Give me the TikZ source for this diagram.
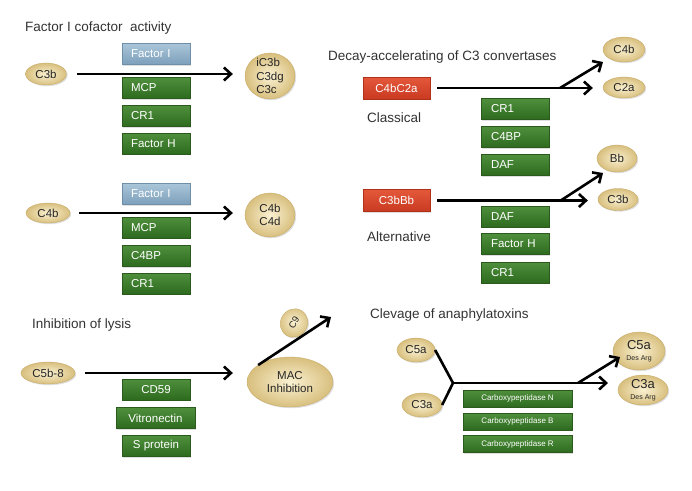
\documentclass[tikz,border=0pt]{standalone}
\usepackage{fontspec}
\setmainfont{Liberation Sans}
\usetikzlibrary{arrows.meta,shapes.geometric,shadows}
\definecolor{gtop}{HTML}{4F8F3C}
\definecolor{gbot}{HTML}{2D6A1F}
\definecolor{gedge}{HTML}{2A5A1C}
\definecolor{btop}{HTML}{A9C5D9}
\definecolor{bbot}{HTML}{7D9FBA}
\definecolor{bedge}{HTML}{6F8FA8}
\definecolor{rtop}{HTML}{E4583A}
\definecolor{rbot}{HTML}{C93A22}
\definecolor{redge}{HTML}{B03018}
\definecolor{goldin}{HTML}{FAF1D2}
\definecolor{goldout}{HTML}{D8BF7E}
\definecolor{golde}{HTML}{C4A760}
\definecolor{ttl}{HTML}{333333}
\begin{document}
\begin{tikzpicture}[x=1pt,y=-1pt,
  every node/.style={inner sep=0pt},
  ttext/.style={font=\fontsize{13.5}{16}\selectfont, text=ttl, anchor=west},
  shd/.style={drop shadow={opacity=0.25,shadow xshift=1.2pt,shadow yshift=-1.2pt}},
  gbox/.style={rectangle, draw=gedge, line width=0.3pt, top color=gtop, bottom color=gbot,
    text=white, minimum width=68pt, minimum height=21pt, font=\fontsize{11.5}{13}\selectfont, shd},
  lbox/.style={gbox, text width=50pt, align=left, inner xsep=9pt},
  bbox/.style={lbox, draw=bedge, top color=btop, bottom color=bbot},
  rbox/.style={gbox, draw=redge, top color=rtop, bottom color=rbot, minimum width=67pt, minimum height=22pt},
  sbox/.style={gbox, minimum width=109pt, minimum height=17pt, font=\fontsize{8}{9}\selectfont},
  oval/.style={ellipse, draw=golde, line width=0.3pt, inner color=goldin, outer color=goldout,
    font=\fontsize{11.5}{13.5}\selectfont, text=black!85, shd},
  arr/.style={line width=2.6pt, -{Straight Barb[length=7pt,width=13pt]}},
  seg/.style={line width=2.6pt},
]
\fill[white] (0,0) rectangle (692,490);
\useasboundingbox (0,0) rectangle (692,490);

% ---------- Factor I cofactor activity (C3b)
\node[ttext] (t1) at (25,28) {Factor I cofactor\ \ activity};
\node[oval, minimum width=41pt, minimum height=22pt] (c3b) at (46,74) {C3b};
\node[oval, minimum width=50pt, minimum height=46pt,
  label={[font=\fontsize{11.5}{13.5}\selectfont, align=left, text=black!85]center:{iC3b\\C3dg\\C3c}}] (res1) at (270,76) {};
\node[bbox] (fi1) at (156,54) {Factor I};
\node[lbox] (mcp1) at (156,88) {MCP};
\node[lbox] (cr1a) at (156,116) {CR1};
\node[lbox] (fh1) at (156,143.5) {Factor H};
\draw[arr, shorten <=10pt, shorten >=12pt] (c3b.east) -- (c3b.east -| res1.west);

% ---------- C4b
\node[oval, minimum width=44pt, minimum height=20pt] (c4b) at (48,213) {C4b};
\node[oval, minimum width=50pt, minimum height=44pt,
  label={[font=\fontsize{11.5}{13.5}\selectfont, align=left, text=black!85]center:{C4b\\C4d}}] (res2) at (270,215) {};
\node[bbox] (fi2) at (156,194) {Factor I};
\node[lbox] (mcp2) at (156,227.5) {MCP};
\node[lbox] (c4bp1) at (156,256) {C4BP};
\node[lbox] (cr1b) at (156,283.5) {CR1};
\draw[arr, shorten <=9pt, shorten >=12pt] (c4b.east) -- (c4b.east -| res2.west);

% ---------- Inhibition of lysis
\node[ttext] (t3) at (32,325) {Inhibition of lysis};
\node[oval, minimum width=54pt, minimum height=22pt] (c5b8) at (48,373) {C5b-8};
\node[oval, minimum width=86pt, minimum height=50pt, align=center] (mac) at (290,382) {MAC\\Inhibition};
\node[oval, minimum width=29pt, minimum height=27pt, rotate=60, font=\fontsize{9.5}{11}\selectfont] (c9) at (294,323) {C9};
\node[gbox, text width=50pt, align=center] (cd59) at (156,389.5) {CD59};
\node[gbox, minimum width=79pt] (vit) at (155.5,418) {Vitronectin};
\node[gbox] (sprot) at (156,446) {S protein};
\coordinate (c9tip) at (331,317);
\draw[arr, shorten <=10pt, shorten >=14pt] (c5b8.east) -- (c5b8.east -| mac.west);
\draw[arr] (mac.152) -- (c9tip);

% ---------- Decay-accelerating
\node[ttext] (t4) at (328,57) {Decay-accelerating of C3 convertases};
\node[rbox] (c4bc2a) at (396.5,88) {C4bC2a};
\node[ttext] (cls) at (367,118) {Classical};
\node[oval, minimum width=42pt, minimum height=25pt] (c4bR) at (624,49.5) {C4b};
\node[oval, minimum width=42pt, minimum height=21pt] (c2a) at (624,87.5) {C2a};
\node[lbox, inner xsep=10pt, text width=48pt] (cr1c) at (515,109) {CR1};
\node[lbox, inner xsep=10pt, text width=48pt] (c4bp2) at (515,137) {C4BP};
\node[lbox, inner xsep=10pt, text width=48pt] (daf1) at (515,165) {DAF};
\coordinate (j1) at (560,88);
\coordinate (tipA) at (603,62);
\draw[arr, shorten <=7pt, shorten >=10pt] (c4bc2a.east) -- (c4bc2a.east -| c2a.west);
\draw[arr] (j1) -- (tipA);

\node[rbox] (c3bbb) at (396.5,200.5) {C3bBb};
\node[ttext] (alt) at (367,237) {Alternative};
\node[oval, minimum width=40pt, minimum height=27pt] (bb) at (617,158.5) {Bb};
\node[oval, minimum width=40pt, minimum height=22pt] (c3bR) at (618,199.5) {C3b};
\node[lbox, inner xsep=10pt, text width=48pt] (daf2) at (515,216.5) {DAF};
\node[lbox, inner xsep=10pt, text width=48pt] (fh2) at (515,244) {Factor H};
\node[lbox, inner xsep=10pt, text width=48pt] (cr1d) at (515,272.5) {CR1};
\coordinate (j2) at (560,201);
\coordinate (tipB) at (603,173);
\draw[arr, shorten <=7pt, shorten >=10pt] (c3bbb.east) -- (c3bbb.east -| c3bR.west);
\draw[arr] (j2) -- (tipB);

% ---------- Clevage of anaphylatoxins
\node[ttext] (t5) at (370,315) {Clevage of anaphylatoxins};
\node[oval, minimum width=38pt, minimum height=24pt] (c5a) at (416,350) {C5a};
\node[oval, minimum width=40pt, minimum height=24pt] (c3a) at (422,405) {C3a};
\node[oval, minimum width=52pt, minimum height=38pt,
  label={[align=center, text=black!85]center:{\fontsize{13}{11}\selectfont C5a\\[-1pt]\fontsize{7}{8}\selectfont Des Arg}}] (c5ada) at (639,351) {};
\node[oval, minimum width=50pt, minimum height=30pt,
  label={[align=center, text=black!85]center:{\fontsize{13}{11}\selectfont C3a\\[-1pt]\fontsize{7}{8}\selectfont Des Arg}}] (c3ada) at (643,390) {};
\node[sbox] (cpn) at (517.5,398.5) {Carboxypeptidase N};
\node[sbox] (cpb) at (517.5,421.5) {Carboxypeptidase B};
\node[sbox] (cpr) at (517.5,444) {Carboxypeptidase R};
\coordinate (j3) at (453,383);
\coordinate (j4) at (578,383);
\coordinate (endC) at (608,383);
\coordinate (tipC) at (620,357);
\draw[seg, line cap=butt] (c5a.east) -- (j3) -- (c3a.east);
\draw[arr] (j3) -- (endC);
\draw[arr] (j4) -- (tipC);
\end{tikzpicture}
\end{document}
